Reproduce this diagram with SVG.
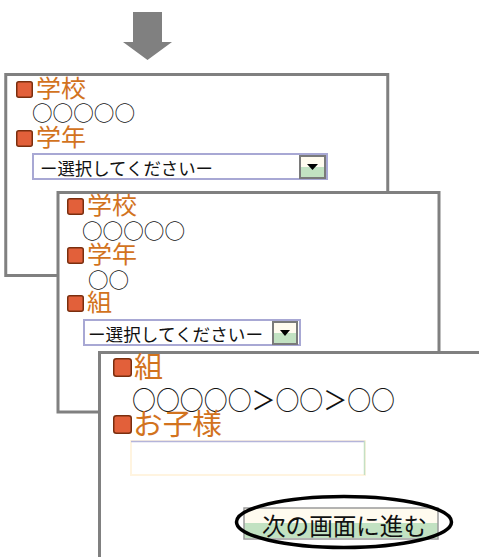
<svg xmlns="http://www.w3.org/2000/svg" width="479" height="557" viewBox="0 0 479 557">
<style>
.panel{fill:#ffffff;stroke:#808080;stroke-width:3}
.bul{fill:#E2603A;stroke:#7A2E0E;stroke-width:1.5}
.lbl{font-family:"Noto Sans CJK JP","Noto Sans",sans-serif;fill:#D2731E}
.val{font-family:"Noto Sans CJK JP","Noto Sans",sans-serif;fill:#111111}
.sel{fill:#ffffff;stroke:#A8A8D4;stroke-width:2}
.btnTop{fill:#FFFBEF}
.btnBot{fill:#C2E2C2}
.btnBox{fill:none;stroke:#7A7A7A;stroke-width:2}
</style>
<rect width="479" height="557" fill="#ffffff"/>
<g id="connectors">
<polygon points="133,12 162,12 162,42 172,42 147.5,60 123,42 133,42" fill="#808080"/>
</g>
<g id="panel1">
<rect class="panel" x="5.75" y="74.5" width="382" height="201"/>
<rect class="bul" x="16.75" y="81.75" width="15.5" height="15.5" rx="2"/>
<text class="lbl" x="36" y="97" font-size="24" textLength="50" lengthAdjust="spacingAndGlyphs">学校</text>
<text class="val" x="32" y="121" font-size="20.5" textLength="103" lengthAdjust="spacingAndGlyphs">○○○○○</text>
<rect class="bul" x="16.75" y="130.75" width="15.5" height="15.5" rx="2"/>
<text class="lbl" x="36" y="146" font-size="24" textLength="50" lengthAdjust="spacingAndGlyphs">学年</text>
<rect class="sel" x="33" y="154" width="294" height="25"/>
<text class="val" x="40" y="175" font-size="17.5" textLength="173" lengthAdjust="spacingAndGlyphs">ー選択してくださいー</text>
<rect class="btnTop" x="300" y="156" width="25" height="11"/>
<rect class="btnBot" x="300" y="167" width="25" height="11"/>
<rect class="btnBox" x="300" y="156" width="25" height="22"/>
<polygon points="307,164 318,164 312.5,170" fill="#000000"/>
</g>
<g id="panel2">
<rect class="panel" x="58" y="192.5" width="381" height="219.5"/>
<rect class="bul" x="67.75" y="198.75" width="15.5" height="15.5" rx="2"/>
<text class="lbl" x="87" y="214" font-size="24" textLength="50" lengthAdjust="spacingAndGlyphs">学校</text>
<text class="val" x="82" y="239" font-size="20.5" textLength="103" lengthAdjust="spacingAndGlyphs">○○○○○</text>
<rect class="bul" x="67.75" y="247.75" width="15.5" height="15.5" rx="2"/>
<text class="lbl" x="87" y="263" font-size="24" textLength="50" lengthAdjust="spacingAndGlyphs">学年</text>
<text class="val" x="88" y="288" font-size="20.5" textLength="41" lengthAdjust="spacingAndGlyphs">○○</text>
<rect class="bul" x="67.75" y="295.75" width="15.5" height="15.5" rx="2"/>
<text class="lbl" x="87" y="311" font-size="24" textLength="25" lengthAdjust="spacingAndGlyphs">組</text>
<rect class="sel" x="84" y="320" width="216" height="25"/>
<text class="val" x="88" y="341" font-size="17.5" textLength="175" lengthAdjust="spacingAndGlyphs">ー選択してくださいー</text>
<rect class="btnTop" x="273" y="322" width="24" height="11"/>
<rect class="btnBot" x="273" y="333" width="24" height="11"/>
<rect class="btnBox" x="273" y="322" width="24" height="22"/>
<polygon points="280,330 290,330 285,336" fill="#000000"/>
</g>
<g id="panel3">
<rect class="panel" x="99.5" y="352.5" width="400" height="230"/>
<rect class="bul" x="113.75" y="358.75" width="17.5" height="17.5" rx="2.5"/>
<text class="lbl" x="134" y="378" font-size="29" textLength="29" lengthAdjust="spacingAndGlyphs">組</text>
<text class="val" x="132" y="410" font-size="26" textLength="263" lengthAdjust="spacingAndGlyphs">○○○○○＞○○＞○○</text>
<rect class="bul" x="113.75" y="415.75" width="17.5" height="17.5" rx="2.5"/>
<text class="lbl" x="133" y="435" font-size="29" textLength="89" lengthAdjust="spacingAndGlyphs">お子様</text>
<rect x="131" y="441" width="234" height="34" fill="#ffffff" stroke="#FFF4E0" stroke-width="2"/>
<line x1="131" y1="441.5" x2="365" y2="441.5" stroke="#B4B4DA" stroke-width="1.5"/>
<line x1="364.5" y1="441" x2="364.5" y2="475" stroke="#C4E0C4" stroke-width="1.5"/>
</g>
<g id="next-button">
<rect class="btnTop" x="244" y="508" width="194" height="15"/>
<rect class="btnBot" x="244" y="523" width="194" height="15"/>
<rect x="244" y="508" width="194" height="31" fill="none" stroke="#9A9A9A" stroke-width="1.5"/>
<text class="val" x="262" y="535" font-size="23.5" textLength="165" lengthAdjust="spacingAndGlyphs" fill="#222222">次の画面に進む</text>
<ellipse cx="344" cy="522" rx="107.5" ry="25.5" fill="none" stroke="#000000" stroke-width="3.5"/>
</g>
</svg>
